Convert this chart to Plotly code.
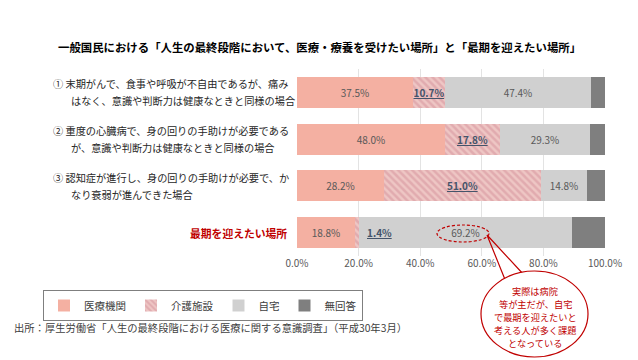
import plotly.graph_objects as go

rows = [0, 1, 2, 3]
iryo = [37.5, 48.0, 28.2, 18.8]
kaigo = [10.7, 17.8, 51.0, 1.4]
jitaku = [47.4, 29.3, 14.8, 69.2]
mukaito = [4.4, 4.9, 6.0, 10.6]
series_names = ["医療機関", "介護施設", "自宅", "無回答"]
x_ticks = [0, 20, 40, 60, 80, 100]
x_tick_labels = ["0.0%", "20.0%", "40.0%", "60.0%", "80.0%", "100.0%"]
row_lines = [
    ["① 末期がんで、食事や呼吸が不自由であるが、痛み", "はなく、意識や判断力は健康なときと同様の場合"],
    ["② 重度の心臓病で、身の回りの手助けが必要である", "が、意識や判断力は健康なときと同様の場合"],
    ["③ 認知症が進行し、身の回りの手助けが必要で、か", "なり衰弱が進んできた場合"],
]
last_label = "最期を迎えたい場所"
title = "一般国民における「人生の最終段階において、医療・療養を受けたい場所」と「最期を迎えたい場所」"
source = "出所：厚生労働省「人生の最終段階における医療に関する意識調査」（平成30年3月）"
callout_lines = ["実際は病院", "等が主だが、自宅", "で最期を迎えたいと", "考える人が多く課題", "となっている"]

FONT = "Noto Sans CJK JP"
OFF = 8  # page body margin offset
W, H = 638 - OFF, 360 - OFF
L = 297 - OFF
R = 33
T = 69 - OFF
B = H - (256 - OFF)
BW = 0.66

fig = go.Figure()
fig.add_trace(go.Bar(y=rows, x=iryo, orientation="h", name=series_names[0], width=BW,
                     marker=dict(color="#F4B0A2", line=dict(width=0)),
                     text=[f"{v:.1f}%" for v in iryo], texttemplate="%{text}",
                     textposition="inside", insidetextanchor="middle",
                     textfont=dict(color="#595959", size=10, family=FONT)))
kaigo_text = [f"<b><u>{v:.1f}%</u></b>" for v in kaigo]
kaigo_text[3] = ""
fig.add_trace(go.Bar(y=rows, x=kaigo, orientation="h", name=series_names[1], width=BW,
                     marker=dict(color="#E8B8B8", line=dict(width=0),
                                 pattern=dict(shape="\\", fgcolor="#D4909A", bgcolor="#EEC6C4",
                                              size=5, solidity=0.5, fillmode="overlay")),
                     text=kaigo_text, texttemplate="%{text}",
                     textposition="inside", insidetextanchor="middle",
                     textfont=dict(color="#44546A", size=10, family=FONT)))
fig.add_trace(go.Bar(y=rows, x=jitaku, orientation="h", name=series_names[2], width=BW,
                     marker=dict(color="#D0D0D0", line=dict(width=0)),
                     text=[f"{v:.1f}%" for v in jitaku], texttemplate="%{text}",
                     textposition="inside", insidetextanchor="middle",
                     textfont=dict(color="#595959", size=10, family=FONT)))
fig.add_trace(go.Bar(y=rows, x=mukaito, orientation="h", name=series_names[3], width=BW,
                     marker=dict(color="#7F7F7F", line=dict(width=0)),
                     hoverinfo="x"))

# 1.4% label outside the thin segment
fig.add_annotation(x=iryo[3] + kaigo[3], y=rows[3], xref="x", yref="y",
                   text=f"<b><u>{kaigo[3]:.1f}%</u></b>", showarrow=False, xanchor="left",
                   xshift=6, font=dict(color="#44546A", size=10, family=FONT))

pw = W - L - R
ph = H - T - B
def px(xpix):
    return (xpix - OFF - L) / pw
def py(ypix):
    return (H - B - (ypix - OFF)) / ph

# category labels
for i, lines in enumerate(row_lines):
    yc = 69 + (i + 0.5) * ph / 4
    fig.add_annotation(x=px(51), y=py(yc - 8.5), xref="paper", yref="paper", text=lines[0],
                       showarrow=False, xanchor="left", yanchor="middle",
                       font=dict(size=10.2, color="#262626", family=FONT))
    fig.add_annotation(x=px(69), y=py(yc + 8.5), xref="paper", yref="paper", text=lines[1],
                       showarrow=False, xanchor="left", yanchor="middle",
                       font=dict(size=10.2, color="#262626", family=FONT))
fig.add_annotation(x=px(289), y=py(69 + 3.5 * ph / 4), xref="paper", yref="paper",
                   text=f"<b>{last_label}</b>", showarrow=False, xanchor="right", yanchor="middle",
                   font=dict(size=10.8, color="#C00000", family=FONT))

# title
fig.add_annotation(x=px(319), y=py(47), xref="paper", yref="paper", text=f"<b>{title}</b>",
                   showarrow=False, xanchor="center", yanchor="middle",
                   font=dict(size=11.4, color="#000000", family=FONT))
# source
fig.add_annotation(x=px(12), y=py(327), xref="paper", yref="paper", text=source,
                   showarrow=False, xanchor="left", yanchor="middle",
                   font=dict(size=10.3, color="#404040", family=FONT))

# callout: dashed ellipse, pointer, bubble
fig.add_shape(type="circle", xref="paper", yref="paper",
              x0=px(437), x1=px(489), y0=py(242), y1=py(225),
              line=dict(color="#C00000", width=1.2, dash="3px,2px"))
fig.add_shape(type="path", xref="paper", yref="paper",
              path=f"M {px(506)} {py(282)} L {px(487)} {py(235)} L {px(524)} {py(275)}",
              line=dict(color="#C00000", width=1.2))
fig.add_shape(type="circle", xref="paper", yref="paper",
              x0=px(481), x1=px(588), y0=py(357), y1=py(271),
              line=dict(color="#C00000", width=1.2), fillcolor="#FFFFFF")
for k, line in enumerate(callout_lines):
    fig.add_annotation(x=px(535), y=py(291 + 12.9 * k), xref="paper", yref="paper", text=line,
                       showarrow=False, xanchor="center", yanchor="middle", align="center",
                       font=dict(size=9.2, color="#C00000", family=FONT))

fig.update_layout(
    width=W, height=H, barmode="stack", bargap=0,
    margin=dict(l=L, r=R, t=T, b=B, pad=0, autoexpand=False),
    paper_bgcolor="#FFFFFF", plot_bgcolor="#FFFFFF",
    font=dict(family=FONT, size=10, color="#595959"),
    uniformtext=dict(mode="show", minsize=9),
    xaxis=dict(range=[0, 100], tickvals=x_ticks, ticktext=x_tick_labels,
               showgrid=True, gridcolor="#E3E3E3", gridwidth=1, zeroline=False,
               showline=False, ticks="", tickfont=dict(size=10, color="#595959", family=FONT),
               fixedrange=True),
    yaxis=dict(range=[3.5, -0.5], showticklabels=False, showgrid=False, zeroline=False,
               showline=False, fixedrange=True),
    showlegend=True,
    legend=dict(orientation="h", x=px(43), y=py(290), xanchor="left", yanchor="top",
                bordercolor="#7F7F7F", borderwidth=1, bgcolor="#FFFFFF",
                font=dict(size=10.5, color="#404040", family=FONT),
                itemwidth=30, traceorder="normal", tracegroupgap=0),
)

fig.write_html("out.html")
